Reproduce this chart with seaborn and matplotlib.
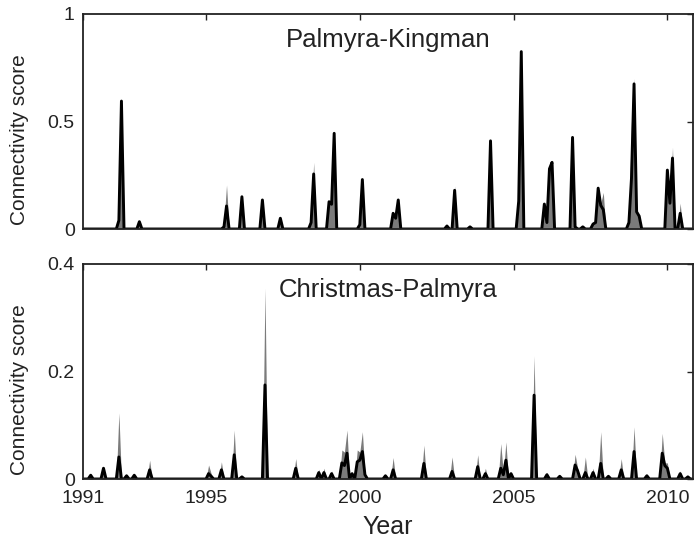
import numpy as np
import pandas as pd
import matplotlib
matplotlib.use("Agg")
import matplotlib.pyplot as plt
import seaborn as sns

# ---------------- data (monthly, month index = months since Jan 1991) ----------------
n_months = 239
start_year = 1991

# Palmyra-Kingman
pk_month = [14, 15, 22, 55, 56, 62, 70, 77, 89, 90, 96, 97, 98, 108, 109, 121, 122, 123,
            142, 145, 151, 159, 170, 171, 180, 181, 182, 183, 191, 192, 195, 199, 200,
            201, 202, 203, 213, 214, 215, 216, 217, 228, 229, 230, 233]
pk_mean = [0.04, 0.595, 0.034, 0.01, 0.107, 0.15, 0.135, 0.05, 0.03, 0.256, 0.127, 0.115, 0.445,
           0.02, 0.23, 0.073, 0.05, 0.135, 0.014, 0.18, 0.01, 0.41, 0.13, 0.825, 0.116, 0.03,
           0.28, 0.31, 0.426, 0.01, 0.01, 0.023, 0.03, 0.19, 0.11, 0.09, 0.03, 0.236, 0.675,
           0.08, 0.06, 0.274, 0.12, 0.33, 0.073]
pk_upper = [0.08, 0.60, 0.034, 0.03, 0.205, 0.15, 0.135, 0.05, 0.05, 0.31, 0.13, 0.12, 0.445,
            0.03, 0.23, 0.075, 0.05, 0.135, 0.014, 0.20, 0.01, 0.41, 0.20, 0.83, 0.116, 0.03,
            0.28, 0.31, 0.43, 0.01, 0.01, 0.023, 0.03, 0.19, 0.12, 0.17, 0.05, 0.50, 0.70,
            0.08, 0.06, 0.274, 0.12, 0.38, 0.12]

# Christmas-Palmyra
cp_month = [3, 8, 14, 17, 20, 26, 49, 50, 54, 59, 62, 71, 83, 92, 94, 97, 101, 102, 103, 105,
            107, 108, 109, 110, 118, 121, 133, 144, 154, 157, 163, 164, 165, 167, 176, 181,
            186, 192, 193, 196, 199, 202, 205, 210, 215, 220, 226, 227, 228, 233, 236]
cp_mean = [0.007, 0.02, 0.041, 0.006, 0.007, 0.017, 0.01, 0.005, 0.017, 0.045, 0.004, 0.175,
           0.02, 0.012, 0.012, 0.01, 0.03, 0.025, 0.048, 0.01, 0.032, 0.035, 0.051, 0.008,
           0.006, 0.017, 0.029, 0.014, 0.023, 0.01, 0.02, 0.008, 0.035, 0.01, 0.156, 0.008,
           0.005, 0.026, 0.015, 0.012, 0.012, 0.029, 0.005, 0.017, 0.051, 0.006, 0.048, 0.025,
           0.02, 0.01, 0.004]
cp_upper = [0.01, 0.022, 0.123, 0.006, 0.007, 0.035, 0.026, 0.01, 0.032, 0.091, 0.004, 0.355,
            0.038, 0.018, 0.02, 0.015, 0.054, 0.05, 0.091, 0.012, 0.054, 0.05, 0.088, 0.01,
            0.006, 0.04, 0.063, 0.041, 0.045, 0.02, 0.066, 0.01, 0.069, 0.01, 0.229, 0.012,
            0.005, 0.046, 0.02, 0.041, 0.02, 0.088, 0.005, 0.038, 0.097, 0.009, 0.085, 0.03,
            0.03, 0.015, 0.004]

panel_titles = ["Palmyra-Kingman", "Christmas-Palmyra"]
y_ticks = [[0, 0.5, 1], [0, 0.2, 0.4]]
y_ticklabels = [["0", "0.5", "1"], ["0", "0.2", "0.4"]]
y_limits = [(0, 1), (0, 0.4)]
x_ticks = [1991, 1995, 2000, 2005, 2010]


def build_frame(months, mean, upper):
    m = np.arange(n_months)
    mean_full = np.zeros(n_months)
    upper_full = np.zeros(n_months)
    mean_full[months] = mean
    upper_full[months] = upper
    return pd.DataFrame({"year": start_year + m / 12.0, "mean": mean_full, "upper": upper_full})


frames = [build_frame(pk_month, pk_mean, pk_upper), build_frame(cp_month, cp_mean, cp_upper)]

# ---------------- style ----------------
sns.set_style("white")
plt.rcParams["font.family"] = ["Liberation Sans", "DejaVu Sans"]

fig = plt.figure(figsize=(6.95, 5.38), dpi=100)
W, H = 695, 538
left, right = 83, 693
panels_px = [(14, 229), (264, 479)]

for i, (top, bot) in enumerate(panels_px):
    ax = fig.add_axes([left / W, 1 - bot / H, (right - left) / W, (bot - top) / H])
    df = frames[i]
    ax.fill_between(df["year"], 0, df["upper"], color="#7b7b7b", lw=0, zorder=1)
    sns.lineplot(data=df, x="year", y="mean", ax=ax, color="black", lw=2.1, zorder=2)
    ax.set_xlim(start_year, start_year + (n_months - 1) / 12.0)
    ax.set_ylim(*y_limits[i])
    ax.set_yticks(y_ticks[i])
    ax.set_yticklabels(y_ticklabels[i])
    ax.set_xticks(x_ticks)
    if i == 0:
        ax.set_xticklabels([])
    else:
        ax.set_xticklabels([str(t) for t in x_ticks])
    ax.set_xlabel("")
    ax.set_ylabel("")
    ax.tick_params(direction="in", top=True, right=True, length=4, width=1,
                   labelsize=14, color="#222222", labelcolor="#222222")
    ax.tick_params(axis="y", pad=6)
    ax.tick_params(axis="x", pad=8)
    for s in ax.spines.values():
        s.set_linewidth(1.3)
        s.set_color("#222222")
    ax.text(0.5, 0.845, panel_titles[i], transform=ax.transAxes, ha="center",
            va="baseline", fontsize=18.5, color="#222222")
    fig.text(20 / W, 1 - ((top + bot) / 2 + 18) / H, "Connectivity score", rotation=90,
             ha="center", va="center", fontsize=15, color="#222222")

fig.text(388 / W, 1 - 534 / H, "Year", ha="center", va="baseline", fontsize=18, color="#222222")

fig.savefig("out.png", dpi=100)
